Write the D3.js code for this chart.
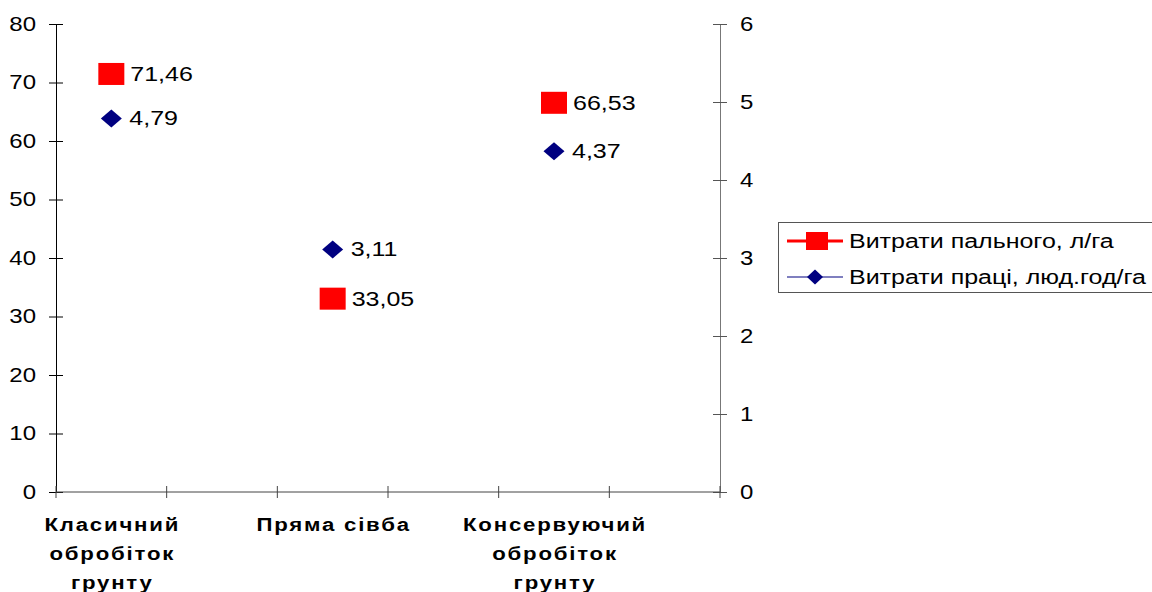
<!DOCTYPE html>
<html>
  <head>
    <meta charset="utf-8" />
    <title>Витрати пального та праці</title>
    <style>
      body {
        margin: 0;
        background: #fff;
      }
      text {
        font-family: Arial, "Liberation Sans", sans-serif;
      }
      .tick text {
        font-size: 20px;
        fill: #000;
      }
      .cat {
        font-size: 18.5px;
        font-weight: bold;
        letter-spacing: 1.5px;
      }
      .val {
        font-size: 20px;
      }
      .legend text {
        font-size: 20px;
      }
    </style>
  </head>
  <body>
    <svg width="1152" height="592"></svg>

    <script src="https://d3js.org/d3.v7.min.js"></script>
    <script>
      // Data (empty slots sit between the categories, as in the original)
      const categories = [
        "Класичний\nобробіток\nгрунту",
        "",
        "Пряма сівба",
        "",
        "Консервуючий\nобробіток\nгрунту",
        "",
      ];
      const fuel = [71.46, null, 33.05, null, 66.53, null]; // л/га, left axis
      const labour = [4.79, null, 3.11, null, 4.37, null]; // люд.год/га, right axis
      const seriesNames = ["Витрати пального, л/га", "Витрати праці, люд.год/га"];
      const leftTicks = [0, 10, 20, 30, 40, 50, 60, 70, 80];
      const rightTicks = [0, 1, 2, 3, 4, 5, 6];

      const svg = d3.select("svg");
      const plotLeft = 56,
        plotRight = 720,
        plotTop = 24,
        plotBottom = 492;

      const x = d3
        .scaleBand()
        .domain(d3.range(categories.length))
        .range([plotLeft, plotRight])
        .padding(0);
      const yL = d3.scaleLinear().domain([0, 80]).range([plotBottom, plotTop]);
      const yR = d3.scaleLinear().domain([0, 6]).range([plotBottom, plotTop]);

      const fmt = (v) => d3.format(".2f")(v).replace(".", ",");

      // the original's text is drawn a bit wider than plain Arial
      function stretch(sel, s) {
        sel.each(function () {
          const t = d3.select(this);
          const tx = +t.attr("x") || 0;
          const ty = +t.attr("y") || 0;
          t.attr("x", 0)
            .attr("y", 0)
            .attr("transform", `translate(${tx},${ty}) scale(${s},1)`);
        });
      }

      // Left axis
      const gL = svg
        .append("g")
        .attr("transform", `translate(${plotLeft},0)`)
        .call(
          d3.axisLeft(yL).tickValues(leftTicks).tickSize(7).tickPadding(13)
        );
      gL.selectAll(".tick")
        .append("line")
        .attr("x2", 7)
        .attr("stroke", "#000");
      gL.select(".domain").attr("stroke", "#000");
      stretch(gL.selectAll(".tick text"), 1.2);

      // Right axis
      const gR = svg
        .append("g")
        .attr("transform", `translate(${plotRight},0)`)
        .call(
          d3
            .axisRight(yR)
            .tickValues(rightTicks)
            .tickFormat(d3.format("d"))
            .tickSize(7)
            .tickPadding(13)
        );
      gR.selectAll(".tick line").attr("stroke", "#555");
      gR.selectAll(".tick")
        .append("line")
        .attr("x2", -7)
        .attr("stroke", "#555");
      gR.select(".domain").attr("stroke", "#777");
      stretch(gR.selectAll(".tick text"), 1.2);

      // X axis: ticks at every slot boundary, crossing the line
      const bounds = d3.range(categories.length + 1).map((i) =>
        i < categories.length ? x(i) : x(i - 1) + x.bandwidth()
      );
      const gX = svg.append("g");
      gX.append("line")
        .attr("x1", plotLeft)
        .attr("x2", plotRight)
        .attr("y1", plotBottom)
        .attr("y2", plotBottom)
        .attr("stroke", "#444");
      gX.selectAll(".xt")
        .data(bounds)
        .join("line")
        .attr("class", "xt")
        .attr("x1", (d) => d)
        .attr("x2", (d) => d)
        .attr("y1", plotBottom - 6)
        .attr("y2", plotBottom + 6)
        .attr("stroke", "#444");

      // Category labels
      const cat = svg
        .selectAll(".cat")
        .data(categories)
        .join("text")
        .attr("class", "cat")
        .attr("text-anchor", "middle")
        .attr(
          "transform",
          (d, i) =>
            `translate(${x(i) + x.bandwidth() / 2 + 1},${plotBottom + 39}) scale(1.2,1)`
        );
      cat.selectAll("tspan")
        .data((d) => (d ? d.split("\n") : []))
        .join("tspan")
        .attr("x", 0)
        .attr("y", (d, i) => i * 29)
        .text((d) => d);

      const cx = (i) => x(i) + x.bandwidth() / 2;

      // Fuel series: red squares
      const fuelPts = fuel.map((v, i) => ({ v, i })).filter((d) => d.v != null);
      svg.selectAll(".sq")
        .data(fuelPts)
        .join("rect")
        .attr("class", "sq")
        .attr("x", (d) => cx(d.i) - 13)
        .attr("y", (d) => yL(d.v) - 11)
        .attr("width", 26)
        .attr("height", 22)
        .attr("fill", "#ff0000");
      svg.selectAll(".fl")
        .data(fuelPts)
        .join("text")
        .attr("class", "val fl")
        .attr("x", (d) => cx(d.i) + 19)
        .attr("y", (d) => yL(d.v))
        .attr("dy", "0.35em")
        .text((d) => fmt(d.v))
        .call(stretch, 1.25);

      // Labour series: navy diamonds
      const diamond = (w, h) =>
        `M0,${-h / 2}L${w / 2},0L0,${h / 2}L${-w / 2},0Z`;
      const labPts = labour.map((v, i) => ({ v, i })).filter((d) => d.v != null);
      svg.selectAll(".dm")
        .data(labPts)
        .join("path")
        .attr("class", "dm")
        .attr("d", diamond(21, 18))
        .attr("transform", (d) => `translate(${cx(d.i)},${yR(d.v)})`)
        .attr("fill", "#000080");
      svg.selectAll(".ll")
        .data(labPts)
        .join("text")
        .attr("class", "val ll")
        .attr("x", (d) => cx(d.i) + 18)
        .attr("y", (d) => yR(d.v))
        .attr("dy", "0.35em")
        .text((d) => fmt(d.v))
        .call(stretch, 1.25);

      // Legend
      const lg = svg.append("g").attr("class", "legend");
      lg.append("rect")
        .attr("x", 778.5)
        .attr("y", 222.5)
        .attr("width", 400)
        .attr("height", 70)
        .attr("fill", "#fff")
        .attr("stroke", "#555");
      const rows = [241, 277];
      // fuel
      lg.append("line")
        .attr("x1", 787)
        .attr("x2", 843)
        .attr("y1", rows[0])
        .attr("y2", rows[0])
        .attr("stroke", "#ff0000")
        .attr("stroke-width", 3);
      lg.append("rect")
        .attr("x", 806)
        .attr("y", rows[0] - 9)
        .attr("width", 22)
        .attr("height", 18)
        .attr("fill", "#ff0000");
      // labour
      lg.append("line")
        .attr("x1", 787)
        .attr("x2", 843)
        .attr("y1", rows[1])
        .attr("y2", rows[1])
        .attr("stroke", "#000080")
        .attr("stroke-width", 1.2);
      lg.append("path")
        .attr("d", diamond(16, 15))
        .attr("transform", `translate(815,${rows[1]})`)
        .attr("fill", "#000080");
      lg.selectAll(".lt")
        .data(seriesNames)
        .join("text")
        .attr("class", "lt")
        .attr("x", 849)
        .attr("y", (d, i) => rows[i])
        .attr("dy", "0.35em")
        .text((d) => d)
        .call(stretch, 1.25);
    </script>
  </body>
</html>
